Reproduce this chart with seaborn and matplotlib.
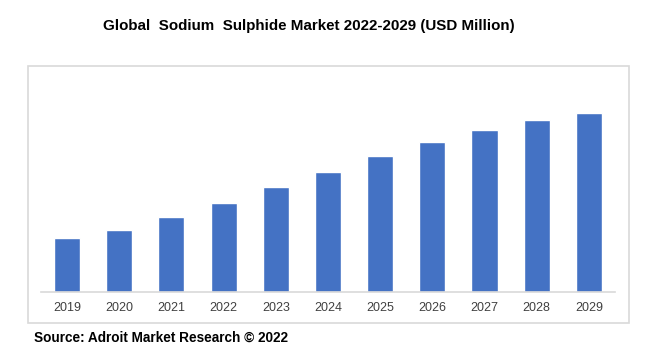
import matplotlib
matplotlib.use("Agg")
import matplotlib.pyplot as plt
import seaborn as sns
import pandas as pd
from matplotlib.patches import Rectangle

years = ['2019', '2020', '2021', '2022', '2023', '2024', '2025', '2026', '2027', '2028', '2029']
market = [54, 62, 75, 89, 105, 120, 136, 150, 162, 172, 179]

df = pd.DataFrame({'year': years, 'value': market})

sns.set_theme(style='white')
plt.rcParams['font.family'] = ['Liberation Sans', 'DejaVu Sans']

W, H = 655, 357
fig = plt.figure(figsize=(W / 100, H / 100), dpi=100)

# outer light grey frame of the chart
fig.patches.append(Rectangle((27.5 / W, 1 - 322.5 / H), 601 / W, 257 / H,
                             transform=fig.transFigure, fill=False,
                             edgecolor='#d9d9d9', linewidth=1.2))

ax = fig.add_axes([41 / W, 1 - 292 / H, 574 / W, 220 / H])
sns.barplot(data=df, x='year', y='value', color='#4472C4', width=0.5,
            saturation=1, ax=ax)
ax.set_xlim(-0.5, len(years) - 0.5)
ax.set_ylim(0, 220)
ax.set_yticks([])
ax.set_xlabel('')
ax.set_ylabel('')
for s in ['top', 'right', 'left']:
    ax.spines[s].set_visible(False)
ax.spines['bottom'].set_color('#d9d9d9')
ax.spines['bottom'].set_linewidth(1.2)
ax.tick_params(axis='x', length=0, pad=7, labelsize=9, labelcolor='#404040')

fig.text(309 / W, 1 - 26 / H, 'Global  Sodium  Sulphide Market 2022-2029 (USD Million)',
         ha='center', va='center', fontsize=10.9, fontweight='bold', color='black')
fig.text(34 / W, 1 - 338 / H, 'Source: Adroit Market Research © 2022',
         ha='left', va='center', fontsize=9.8, fontweight='bold', color='black')

fig.savefig('out.png', dpi=100)
